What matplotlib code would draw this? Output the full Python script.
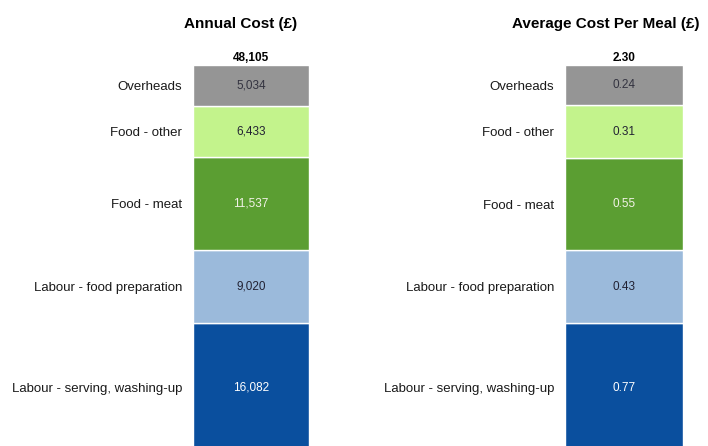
import matplotlib
matplotlib.use("Agg")
import matplotlib.pyplot as plt

plt.rcParams["font.family"] = ["Liberation Sans", "DejaVu Sans"]

# stacked from bottom to top
categories = [
    "Labour - serving, washing-up",
    "Labour - food preparation",
    "Food - meat",
    "Food - other",
    "Overheads",
]
annual_cost = [16082, 9020, 11537, 6433, 5034]
meal_cost = [0.77, 0.43, 0.55, 0.31, 0.24]
annual_labels = ["16,082", "9,020", "11,537", "6,433", "5,034"]
meal_labels = ["0.77", "0.43", "0.55", "0.31", "0.24"]
annual_total = "48,105"
meal_total = "2.30"

colors = ["#0a4f9e", "#9bbadb", "#5b9e32", "#c3f38c", "#959595"]
text_colors = ["white", "#222233", "#f2f2e8", "#222233", "#333340"]

W, H = 708, 446
fig = plt.figure(figsize=(W / 100, H / 100), dpi=100)

# bar spans in pixels: (left, right), top at 65, bottom just off the picture
panels = [
    ((193, 309), annual_cost, annual_labels, annual_total, "Annual Cost (£)", 241),
    ((565, 683), meal_cost, meal_labels, meal_total, "Average Cost Per Meal (£)", 606),
]
top_px, bottom_px = 65, 452.6

for (x0, x1), values, labels, total, title, title_x in panels:
    ax = fig.add_axes([x0 / W, (H - bottom_px) / H, (x1 - x0) / W, (bottom_px - top_px) / H])
    bottom = 0
    centers = []
    for val, lab, col, tcol in zip(values, labels, colors, text_colors):
        ax.bar(0.5, val, width=1.0, bottom=bottom, color=col, edgecolor="white", linewidth=1.0)
        ax.text(0.5, bottom + val / 2, lab, ha="center", va="center", fontsize=8.5, color=tcol)
        centers.append(bottom + val / 2)
        bottom += val
    ax.set_xlim(0, 1)
    ax.set_ylim(0, bottom)
    ax.set_yticks(centers)
    ax.set_yticklabels(categories, fontsize=9.5, color="#1a1a1a")
    ax.tick_params(axis="y", length=0, pad=8)
    ax.set_xticks([])
    for s in ax.spines.values():
        s.set_visible(False)
    ax.annotate(total, (0.5, bottom), xytext=(0, 1), textcoords="offset points",
                ha="center", va="bottom", fontsize=8.5, fontweight="bold")
    fig.text(title_x / W, 1 - 24 / H, title, ha="center", va="center",
             fontsize=11, fontweight="bold")

fig.savefig("out.png", dpi=100)
